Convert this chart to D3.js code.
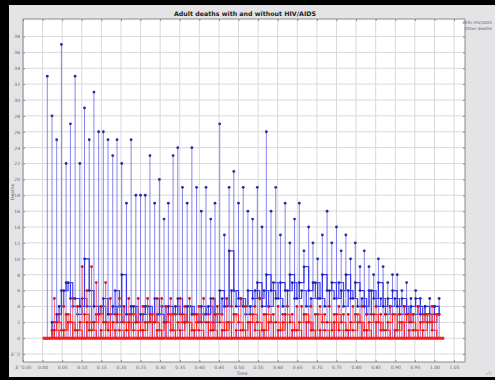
<html>
<head>
    <script src="https://d3js.org/d3.v7.min.js"></script>
    <title>Adult deaths with and without HIV/AIDS</title>
</head>
<style>
    html, body { margin: 0; padding: 0; overflow: hidden; background: #e4e4e7; }
    svg { display: block; }
    text { font-family: "DejaVu Sans", sans-serif; }
    .grid line { stroke: #d9d9dc; stroke-width: 1; }
    .axis path { stroke: #8a8a8a; }
    .axis line { stroke: #8a8a8a; }
    .axis text { fill: #666; font-size: 4.5px; }
</style>
<body>
<div id="chart"></div>
<script>
    // time of each blue stem, and the points between them
    const stemT = [0.012, 0.024, 0.036, 0.048, 0.060, 0.071, 0.083, 0.095, 0.107, 0.119,
        0.131, 0.143, 0.155, 0.167, 0.179, 0.190, 0.202, 0.214, 0.226, 0.238,
        0.250, 0.262, 0.274, 0.286, 0.298, 0.310, 0.321, 0.333, 0.345, 0.357,
        0.369, 0.381, 0.393, 0.405, 0.417, 0.429, 0.440, 0.452, 0.464, 0.476,
        0.488, 0.500, 0.512, 0.524, 0.536, 0.548, 0.560, 0.571, 0.583, 0.595,
        0.607, 0.619, 0.631, 0.643, 0.655, 0.667, 0.679, 0.690, 0.702, 0.714,
        0.726, 0.738, 0.750, 0.762, 0.774, 0.786, 0.798, 0.810, 0.821, 0.833,
        0.845, 0.857, 0.869, 0.881, 0.893, 0.905, 0.917, 0.929, 0.940, 0.952,
        0.964, 0.976, 0.988, 1.000, 1.012];
    const midT = [0.006, 0.018, 0.030, 0.042, 0.054, 0.065, 0.077, 0.089, 0.101, 0.113,
        0.125, 0.137, 0.149, 0.161, 0.173, 0.185, 0.196, 0.208, 0.220, 0.232,
        0.244, 0.256, 0.268, 0.280, 0.292, 0.304, 0.315, 0.327, 0.339, 0.351,
        0.363, 0.375, 0.387, 0.399, 0.411, 0.423, 0.435, 0.446, 0.458, 0.470,
        0.482, 0.494, 0.506, 0.518, 0.530, 0.542, 0.554, 0.565, 0.577, 0.589,
        0.601, 0.613, 0.625, 0.637, 0.649, 0.661, 0.673, 0.685, 0.696, 0.708,
        0.720, 0.732, 0.744, 0.756, 0.768, 0.780, 0.792, 0.804, 0.815, 0.827,
        0.839, 0.851, 0.863, 0.875, 0.887, 0.899, 0.911, 0.923, 0.935, 0.946,
        0.958, 0.970, 0.982, 0.994, 1.006];

    const blueStem = [33, 28, 25, 37, 22, 27, 33, 22, 29, 25,
        31, 26, 26, 25, 23, 25, 22, 17, 25, 18,
        18, 18, 23, 17, 20, 15, 17, 23, 24, 19,
        17, 24, 19, 16, 19, 15, 17, 27, 13, 19,
        21, 17, 19, 16, 15, 19, 14, 26, 16, 19,
        13, 17, 12, 15, 17, 11, 14, 12, 10, 13,
        16, 12, 14, 11, 13, 10, 12, 9, 11, 9,
        8, 10, 9, 7, 8, 8, 6, 7, 5, 6,
        5, 4, 5, 4, 5];
    const blueStepA = [0, 2, 3, 6, 7, 5, 5, 4, 10, 6,
        4, 3, 5, 3, 4, 2, 8, 3, 4, 2,
        3, 4, 2, 5, 3, 2, 4, 3, 5, 2,
        4, 3, 2, 4, 3, 5, 3, 6, 4, 11,
        6, 5, 4, 6, 5, 7, 4, 8, 6, 5,
        7, 6, 8, 5, 7, 9, 6, 7, 5, 8,
        6, 7, 5, 6, 8, 5, 7, 6, 4, 6,
        5, 7, 4, 5, 6, 4, 5, 3, 4, 5,
        3, 4, 3, 4, 3];
    const blueStepB = [0, 0, 2, 4, 6, 7, 4, 3, 5, 4,
        2, 3, 4, 2, 3, 6, 4, 2, 3, 4,
        2, 3, 4, 2, 3, 4, 2, 3, 4, 3,
        2, 4, 3, 2, 3, 4, 2, 3, 5, 4,
        6, 4, 5, 3, 4, 6, 5, 6, 4, 7,
        5, 4, 6, 7, 5, 6, 4, 5, 7, 5,
        4, 6, 5, 7, 4, 6, 5, 4, 5, 3,
        6, 4, 5, 3, 4, 5, 3, 4, 2, 3,
        4, 2, 3, 2, 3];
    const redStem = [0, 0, 5, 3, 4, 3, 5, 4, 9, 6,
        9, 7, 4, 7, 5, 3, 5, 4, 5, 3,
        5, 4, 5, 3, 5, 5, 4, 5, 3, 5,
        4, 5, 3, 4, 5, 3, 5, 4, 3, 5,
        4, 3, 5, 4, 3, 4, 5, 3, 4, 3,
        4, 3, 4, 3, 4, 4, 3, 4, 3, 4,
        3, 4, 3, 4, 3, 3, 4, 3, 4, 3,
        3, 4, 3, 3, 4, 3, 3, 4, 3, 3,
        4, 3, 3, 4, 3];
    const redStepA = [0, 1, 2, 1, 3, 2, 1, 2, 3, 1,
        2, 3, 2, 1, 2, 3, 2, 1, 3, 2,
        1, 2, 3, 2, 1, 2, 3, 1, 2, 3,
        2, 1, 3, 2, 2, 1, 3, 2, 1, 2,
        3, 2, 1, 2, 3, 2, 1, 3, 2, 2,
        1, 3, 2, 1, 2, 3, 2, 1, 3, 2,
        2, 1, 3, 2, 1, 2, 3, 2, 1, 2,
        3, 2, 1, 2, 3, 1, 2, 3, 2, 1,
        2, 3, 2, 3, 3];
    const redStepB = [0, 0, 1, 0, 1, 2, 0, 1, 0, 2,
        1, 0, 1, 2, 0, 1, 1, 0, 2, 1,
        0, 1, 2, 0, 1, 0, 2, 1, 0, 1,
        2, 0, 1, 1, 0, 2, 1, 0, 1, 2,
        0, 1, 1, 0, 2, 1, 0, 1, 2, 0,
        1, 2, 0, 1, 1, 0, 2, 1, 0, 1,
        1, 0, 2, 1, 0, 1, 1, 2, 0, 1,
        0, 2, 1, 1, 0, 1, 2, 0, 1, 1,
        0, 1, 2, 1, 0];
    const baseT = [0, 1.025];

    const xTicks = [-0.05, 0, 0.05, 0.1, 0.15, 0.2, 0.25, 0.3, 0.35, 0.4, 0.45, 0.5,
        0.55, 0.6, 0.65, 0.7, 0.75, 0.8, 0.85, 0.9, 0.95, 1.0, 1.05];
    const yTicks = [-2, 0, 2, 4, 6, 8, 10, 12, 14, 16, 18, 20, 22, 24, 26, 28, 30, 32, 34, 36, 38];
    const legendLabels = ["With HIV/AIDS", "Other deaths"];

    const W = 495, H = 380;
    const plot = ({left: 23, right: 465, top: 19, bottom: 362});

    var svg = d3.select("#chart").append("svg")
        .attr("width", W).attr("height", H);

    // frame: black top, left and bottom edges on a grey panel
    svg.append("rect").attr("width", W).attr("height", H).attr("fill", "#e4e4e7");
    svg.append("rect").attr("width", W).attr("height", 5).attr("fill", "#000");
    svg.append("rect").attr("width", 9).attr("height", H).attr("fill", "#000");
    svg.append("rect").attr("y", 377).attr("width", W).attr("height", 3).attr("fill", "#000");
    svg.append("rect").attr("x", plot.left).attr("y", plot.top)
        .attr("width", plot.right - plot.left).attr("height", plot.bottom - plot.top)
        .attr("fill", "#fff");

    var xScale = d3.scaleLinear().domain([-0.05, 1.078]).range([plot.left, plot.right]);
    var yScale = d3.scaleLinear().domain([-3, 40.2]).range([plot.bottom, plot.top]);

    svg.append("g").attr("class", "grid")
        .selectAll("line").data(xTicks).join("line")
        .attr("x1", d => xScale(d)).attr("x2", d => xScale(d))
        .attr("y1", plot.top).attr("y2", plot.bottom);
    svg.append("g").attr("class", "grid")
        .selectAll("line").data(yTicks).join("line")
        .attr("x1", plot.left).attr("x2", plot.right)
        .attr("y1", d => yScale(d)).attr("y2", d => yScale(d));

    var plotArea = svg.append("g");

    function stems(ts, vals, lineColor, dotColor) {
        var pts = ts.map((t, i) => ({t: t, v: vals[i]})).filter(d => d.v > 0);
        var g = plotArea.append("g");
        g.selectAll("line").data(pts).join("line")
            .attr("x1", d => xScale(d.t)).attr("x2", d => xScale(d.t))
            .attr("y1", yScale(0)).attr("y2", d => yScale(d.v))
            .attr("stroke", lineColor).attr("stroke-width", 0.9);
        g.selectAll("circle").data(pts).join("circle")
            .attr("cx", d => xScale(d.t)).attr("cy", d => yScale(d.v))
            .attr("r", 1.4).attr("fill", dotColor);
    }

    function steps(ts, vals, lineColor, dotColor) {
        var pts = ts.map((t, i) => ({t: t, v: vals[i]}));
        var makeLine = d3.line()
            .x(d => xScale(d.t)).y(d => yScale(d.v))
            .curve(d3.curveStepAfter);
        var g = plotArea.append("g");
        g.append("path").attr("d", makeLine(pts))
            .attr("fill", "none").attr("stroke", lineColor).attr("stroke-width", 1.2);
        g.selectAll("circle").data(pts).join("circle")
            .attr("cx", d => xScale(d.t)).attr("cy", d => yScale(d.v))
            .attr("r", 1.3).attr("fill", dotColor);
    }

    stems(stemT, blueStem, "#7676ee", "#2a2a9c");
    steps(stemT, blueStepA, "#3535ee", "#22229a");
    steps(midT, blueStepB, "#4444f2", "#22229a");
    stems(midT, redStem, "#ff4a4a", "#d01818");
    steps(stemT, redStepA, "#ff2a2a", "#c81818");
    steps(midT, redStepB, "#ff2222", "#d01c1c");

    // zero line
    plotArea.append("path")
        .attr("d", d3.line().x(d => xScale(d)).y(yScale(0))(baseT))
        .attr("stroke", "#ff1a1a").attr("stroke-width", 3).attr("fill", "none");

    // axes
    svg.append("g").attr("class", "axis")
        .attr("transform", `translate(0, ${plot.bottom})`)
        .call(d3.axisBottom(xScale).tickValues(xTicks).tickFormat(d3.format(".2f")).tickSize(-2).tickPadding(4))
        .call(g => g.select(".domain").attr("d", `M${plot.left},0H${plot.right}`));
    svg.append("g").attr("class", "axis")
        .attr("transform", `translate(0, ${plot.top})`)
        .call(d3.axisTop(xScale).tickValues(xTicks).tickFormat("").tickSize(-2))
        .call(g => g.select(".domain").attr("d", `M${plot.left},0H${plot.right}`));
    svg.append("g").attr("class", "axis")
        .attr("transform", `translate(${plot.left}, 0)`)
        .call(d3.axisLeft(yScale).tickValues(yTicks).tickFormat(d3.format("d")).tickSize(-2).tickPadding(3))
        .call(g => g.select(".domain").attr("d", `M0,${plot.top}V${plot.bottom}`));
    svg.append("g").attr("class", "axis")
        .attr("transform", `translate(${plot.right}, 0)`)
        .call(d3.axisRight(yScale).tickValues(yTicks).tickFormat("").tickSize(-2))
        .call(g => g.select(".domain").attr("d", `M0,${plot.top}V${plot.bottom}`));

    svg.append("text").attr("x", 245).attr("y", 16)
        .attr("text-anchor", "middle").attr("font-size", "6.3px").attr("font-weight", "bold")
        .attr("fill", "#222").text("Adult deaths with and without HIV/AIDS");

    svg.append("text").attr("x", 242).attr("y", 375)
        .attr("text-anchor", "middle").attr("font-size", "4.5px").attr("fill", "#555")
        .text("Time");

    svg.append("text").attr("transform", "translate(14, 192) rotate(-90)")
        .attr("text-anchor", "middle").attr("font-size", "4.5px").attr("fill", "#555")
        .text("Deaths");

    svg.selectAll(".legend").data(legendLabels).join("text")
        .attr("class", "legend")
        .attr("x", 492).attr("y", (d, i) => 24 + i * 5.5)
        .attr("text-anchor", "end").attr("font-size", "4.2px").attr("fill", "#666")
        .text(d => d);

    // resize grip
    svg.append("path").attr("d", "M486,375L490,371M489,375L492,372")
        .attr("stroke", "#888").attr("stroke-width", 0.6);
</script>
</body>
</html>
